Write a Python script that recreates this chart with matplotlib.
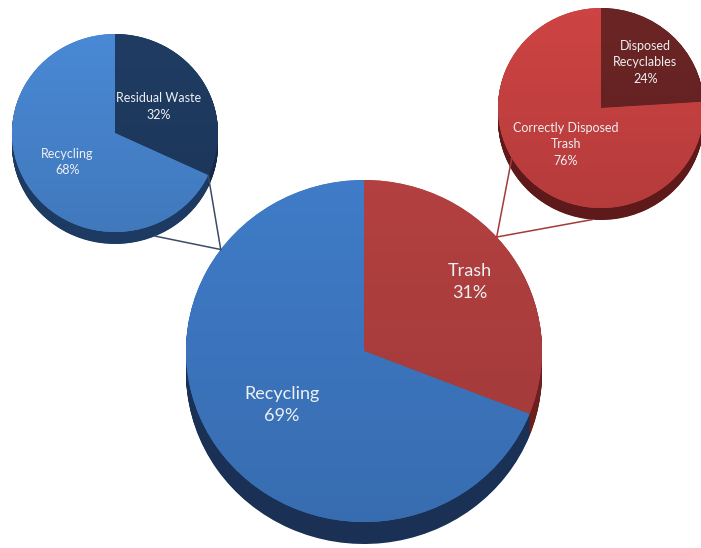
import numpy as np
import matplotlib.pyplot as plt
from matplotlib.colors import to_rgb
from matplotlib.lines import Line2D

W, H = 701, 548

# data
main_labels = ['Trash', 'Recycling']
main_values = [31, 69]
left_labels = ['Residual Waste', 'Recycling']
left_values = [32, 68]
right_labels = ['Disposed\nRecyclables', 'Correctly Disposed\nTrash']
right_values = [24, 76]

plt.rcParams['font.family'] = ['Lato', 'DejaVu Sans']

fig = plt.figure(figsize=(W / 100, H / 100), dpi=100)


def pie3d(cx, cy, rx, ry, depth, values, labels, tops, sides, label_r, fs, ls):
    # one axes per pie, unit circle stretched to the ellipse in pixels
    ax = fig.add_axes([(cx - rx) / W, (H - cy - ry - depth) / H,
                       2 * rx / W, (2 * ry + depth) / H])
    d = depth / ry
    # side of the pie: stack of darker copies
    for k in np.linspace(d, 0, 30)[:-1]:
        ax.pie(values, colors=sides, startangle=90, counterclock=False,
               center=(0, -k), wedgeprops=dict(linewidth=0))
    wedges, _ = ax.pie(values, colors=tops, startangle=90, counterclock=False,
                       wedgeprops=dict(linewidth=0))
    # soft vertical gradient on the top face
    for w, c in zip(wedges, tops):
        f = np.linspace(1.02, 0.9, 200)[:, None, None]
        grad = np.clip(f * np.array(to_rgb(c))[None, None, :], 0, 1)
        im = ax.imshow(np.repeat(grad, 2, axis=1), extent=(-1, 1, -1, 1),
                       aspect='auto', zorder=2)
        im.set_clip_path(w)

    total = sum(values)
    start = 90
    for lab, v, r in zip(labels, values, label_r):
        mid = np.radians(start - 180 * v / total)
        ax.text(r * np.cos(mid), r * np.sin(mid), f'{lab}\n{v}%',
                ha='center', va='center', color='#eef0f4', fontsize=fs,
                linespacing=ls, zorder=3)
        start -= 360 * v / total

    ax.set_xlim(-1, 1)
    ax.set_ylim(-1 - d, 1)
    ax.set_aspect('auto')
    ax.axis('off')
    return ax


ax_main = pie3d(364, 351, 178, 171, 22, main_values, main_labels,
                ['#b03f3f', '#3e79c4'], ['#6b1f1f', '#1a3155'], [0.72, 0.56], 13, 1.5)
ax_left = pie3d(115, 133, 103, 99, 12, left_values, left_labels,
                ['#1f3b61', '#4886d1'], ['#152a48', '#1d3a62'], [0.5, 0.55], 9, 1.45)
ax_right = pie3d(601, 108, 103, 100, 12, right_values, right_labels,
                 ['#6a2424', '#ca4242'], ['#461414', '#5e1a1a'], [0.63, 0.5], 9, 1.45)


def edge_point(ax, angle, drop=0.0):
    a = np.radians(angle)
    p = ax.transData.transform((np.cos(a), np.sin(a) - drop))
    return fig.transFigure.inverted().transform(p)


# connector lines between the main pie and the two breakdown pies
pm_left = edge_point(ax_main, 143.6)
pm_right = edge_point(ax_main, 41.8)
for p in [edge_point(ax_left, -25.2), edge_point(ax_left, -67, 12 / 99)]:
    fig.add_artist(Line2D([p[0], pm_left[0]], [p[1], pm_left[1]],
                          transform=fig.transFigure, color='#3b4c68', lw=1.1))
for p in [edge_point(ax_right, -150), edge_point(ax_right, -95, 12 / 100)]:
    fig.add_artist(Line2D([p[0], pm_right[0]], [p[1], pm_right[1]],
                          transform=fig.transFigure, color='#a33a3a', lw=1.1))

fig.savefig('out.png', dpi=100)
